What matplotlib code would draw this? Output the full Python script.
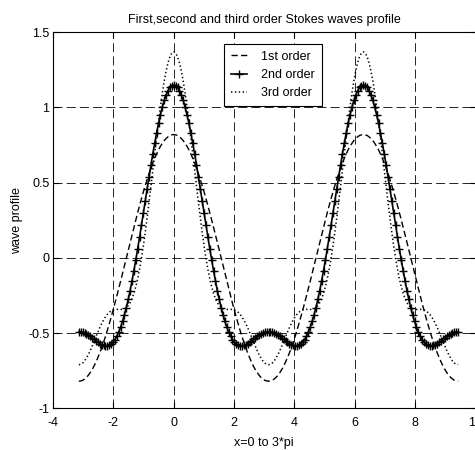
import numpy as np
import matplotlib
matplotlib.use("Agg")
import matplotlib.pyplot as plt

plt.rcParams['font.family'] = ['Liberation Sans', 'DejaVu Sans']
plt.rcParams['axes.unicode_minus'] = False
plt.rcParams['lines.scale_dashes'] = False

title = "First,second and third order Stokes waves profile"
xlabel = "x=0 to 3*pi"
ylabel = "wave profile"
series_names = ["1st order", "2nd order", "3rd order"]
x_start, x_end = -np.pi, 3 * np.pi
xticks = [-4, -2, 0, 2, 4, 6, 8, 10]
xtick_labels = ["-4", "-2", "0", "2", "4", "6", "8", "10"]
yticks = [-1, -0.5, 0, 0.5, 1, 1.5]
ytick_labels = ["-1", "-0.5", "0", "0.5", "1", "1.5"]

# values, x running evenly from -pi to 3*pi
wave1 = [
    -0.820, -0.818, -0.814, -0.805, -0.794, -0.780, -0.762, -0.742, -0.719, -0.692,
    -0.663, -0.632, -0.598, -0.561, -0.523, -0.482, -0.439, -0.395, -0.349, -0.302,
    -0.253, -0.204, -0.154, -0.103, -0.051, 0.000, 0.051, 0.103, 0.154, 0.204,
    0.253, 0.302, 0.349, 0.395, 0.439, 0.482, 0.523, 0.561, 0.598, 0.632,
    0.663, 0.692, 0.719, 0.742, 0.762, 0.780, 0.794, 0.805, 0.814, 0.818, 0.820,
    0.818, 0.814, 0.805, 0.794, 0.780, 0.762, 0.742, 0.719, 0.692, 0.663,
    0.632, 0.598, 0.561, 0.523, 0.482, 0.439, 0.395, 0.349, 0.302, 0.253,
    0.204, 0.154, 0.103, 0.051, 0.000, -0.051, -0.103, -0.154, -0.204, -0.253,
    -0.302, -0.349, -0.395, -0.439, -0.482, -0.523, -0.561, -0.598, -0.632, -0.663,
    -0.692, -0.719, -0.742, -0.762, -0.780, -0.794, -0.805, -0.814, -0.818, -0.820,
    -0.818, -0.814, -0.805, -0.794, -0.780, -0.762, -0.742, -0.719, -0.692, -0.663,
    -0.632, -0.598, -0.561, -0.523, -0.482, -0.439, -0.395, -0.349, -0.302, -0.253,
    -0.204, -0.154, -0.103, -0.051, 0.000, 0.051, 0.103, 0.154, 0.204, 0.253,
    0.302, 0.349, 0.395, 0.439, 0.482, 0.523, 0.561, 0.598, 0.632, 0.663,
    0.692, 0.719, 0.742, 0.762, 0.780, 0.794, 0.805, 0.814, 0.818, 0.820,
    0.818, 0.814, 0.805, 0.794, 0.780, 0.762, 0.742, 0.719, 0.692, 0.663,
    0.632, 0.598, 0.561, 0.523, 0.482, 0.439, 0.395, 0.349, 0.302, 0.253,
    0.204, 0.154, 0.103, 0.051, 0.000, -0.051, -0.103, -0.154, -0.204, -0.253,
    -0.302, -0.349, -0.395, -0.439, -0.482, -0.523, -0.561, -0.598, -0.632, -0.663,
    -0.692, -0.719, -0.742, -0.762, -0.780, -0.794, -0.805, -0.814, -0.818, -0.820,
]

wave2 = [
    -0.490, -0.491, -0.494, -0.499, -0.505, -0.513, -0.522, -0.532, -0.542, -0.552,
    -0.561, -0.570, -0.577, -0.582, -0.585, -0.584, -0.580, -0.572, -0.559, -0.543,
    -0.520, -0.493, -0.461, -0.422, -0.379, -0.330, -0.276, -0.217, -0.153, -0.085,
    -0.014, 0.061, 0.139, 0.218, 0.299, 0.380, 0.461, 0.541, 0.618, 0.694,
    0.765, 0.833, 0.895, 0.952, 1.003, 1.047, 1.083, 1.112, 1.133, 1.146, 1.150,
    1.146, 1.133, 1.112, 1.083, 1.047, 1.003, 0.952, 0.895, 0.833, 0.765,
    0.694, 0.618, 0.541, 0.461, 0.380, 0.299, 0.218, 0.139, 0.061, -0.014,
    -0.085, -0.153, -0.217, -0.276, -0.330, -0.379, -0.422, -0.461, -0.493, -0.520,
    -0.543, -0.559, -0.572, -0.580, -0.584, -0.585, -0.582, -0.577, -0.570, -0.561,
    -0.552, -0.542, -0.532, -0.522, -0.513, -0.505, -0.499, -0.494, -0.491, -0.490,
    -0.491, -0.494, -0.499, -0.505, -0.513, -0.522, -0.532, -0.542, -0.552, -0.561,
    -0.570, -0.577, -0.582, -0.585, -0.584, -0.580, -0.572, -0.559, -0.543, -0.520,
    -0.493, -0.461, -0.422, -0.379, -0.330, -0.276, -0.217, -0.153, -0.085, -0.014,
    0.061, 0.139, 0.218, 0.299, 0.380, 0.461, 0.541, 0.618, 0.694, 0.765,
    0.833, 0.895, 0.952, 1.003, 1.047, 1.083, 1.112, 1.133, 1.146, 1.150,
    1.146, 1.133, 1.112, 1.083, 1.047, 1.003, 0.952, 0.895, 0.833, 0.765,
    0.694, 0.618, 0.541, 0.461, 0.380, 0.299, 0.218, 0.139, 0.061, -0.014,
    -0.085, -0.153, -0.217, -0.276, -0.330, -0.379, -0.422, -0.461, -0.493, -0.520,
    -0.543, -0.559, -0.572, -0.580, -0.584, -0.585, -0.582, -0.577, -0.570, -0.561,
    -0.552, -0.542, -0.532, -0.522, -0.513, -0.505, -0.499, -0.494, -0.491, -0.490,
]

wave3 = [
    -0.710, -0.707, -0.699, -0.685, -0.665, -0.642, -0.616, -0.586, -0.556, -0.524,
    -0.493, -0.464, -0.437, -0.413, -0.392, -0.375, -0.362, -0.352, -0.346, -0.343,
    -0.342, -0.343, -0.343, -0.341, -0.338, -0.330, -0.317, -0.298, -0.271, -0.236,
    -0.192, -0.138, -0.074, -0.001, 0.081, 0.171, 0.268, 0.371, 0.478, 0.588,
    0.697, 0.805, 0.909, 1.007, 1.097, 1.176, 1.244, 1.298, 1.338, 1.362, 1.370,
    1.362, 1.338, 1.298, 1.244, 1.176, 1.097, 1.007, 0.909, 0.805, 0.697,
    0.588, 0.478, 0.371, 0.268, 0.171, 0.081, -0.001, -0.074, -0.138, -0.192,
    -0.236, -0.271, -0.298, -0.317, -0.330, -0.338, -0.341, -0.343, -0.343, -0.342,
    -0.343, -0.346, -0.352, -0.362, -0.375, -0.392, -0.413, -0.437, -0.464, -0.493,
    -0.524, -0.556, -0.586, -0.616, -0.642, -0.665, -0.685, -0.699, -0.707, -0.710,
    -0.707, -0.699, -0.685, -0.665, -0.642, -0.616, -0.586, -0.556, -0.524, -0.493,
    -0.464, -0.437, -0.413, -0.392, -0.375, -0.362, -0.352, -0.346, -0.343, -0.342,
    -0.343, -0.343, -0.341, -0.338, -0.330, -0.317, -0.298, -0.271, -0.236, -0.192,
    -0.138, -0.074, -0.001, 0.081, 0.171, 0.268, 0.371, 0.478, 0.588, 0.697,
    0.805, 0.909, 1.007, 1.097, 1.176, 1.244, 1.298, 1.338, 1.362, 1.370,
    1.362, 1.338, 1.298, 1.244, 1.176, 1.097, 1.007, 0.909, 0.805, 0.697,
    0.588, 0.478, 0.371, 0.268, 0.171, 0.081, -0.001, -0.074, -0.138, -0.192,
    -0.236, -0.271, -0.298, -0.317, -0.330, -0.338, -0.341, -0.343, -0.343, -0.342,
    -0.343, -0.346, -0.352, -0.362, -0.375, -0.392, -0.413, -0.437, -0.464, -0.493,
    -0.524, -0.556, -0.586, -0.616, -0.642, -0.665, -0.685, -0.699, -0.707, -0.710,
]

x1 = np.linspace(x_start, x_end, len(wave1))
x2 = np.linspace(x_start, x_end, len(wave2))
x3 = np.linspace(x_start, x_end, len(wave3))

W, H = 475, 450
fig = plt.figure(figsize=(W / 100, H / 100), dpi=100)
ax_l, ax_r, ax_t, ax_b = 53, 475.5, 32.3, 408.3
ax = fig.add_axes([ax_l / W, 1 - ax_b / H, (ax_r - ax_l) / W, (ax_b - ax_t) / H])

ax.plot(x1, wave1, color='black', lw=1.0, linestyle=(0, (4.5, 2.4)), label=series_names[0])
ax.plot(x2, wave2, color='black', lw=1.2, marker='+', ms=6, mew=1.0, label=series_names[1])
ax.plot(x3, wave3, color='black', lw=1.1, linestyle=(0, (1.0, 1.8)), label=series_names[2])

ax.set_xlim(-4, 10)
ax.set_ylim(-1, 1.5)
ax.set_xticks(xticks)
ax.set_xticklabels(xtick_labels)
ax.set_yticks(yticks)
ax.set_yticklabels(ytick_labels)
ax.tick_params(direction='in', length=4, width=0.8, top=True, right=True,
               labelsize=9, colors='black')
ax.tick_params(axis='x', pad=6.5)
ax.tick_params(axis='y', pad=2.5)
for s in ax.spines.values():
    s.set_linewidth(0.8)
    s.set_color('black')
ax.grid(True, color='black', lw=0.6, linestyle=(0, (6.5, 3.0)))
ax.set_axisbelow(True)

ax.set_title(title, fontsize=9, pad=7)
ax.set_xlabel(xlabel, fontsize=9, labelpad=5.5)
ax.set_ylabel(ylabel, fontsize=9, labelpad=3.5)

leg = ax.legend(loc='upper left',
                bbox_to_anchor=((224 - ax_l) / (ax_r - ax_l), (ax_b - 44) / (ax_b - ax_t)),
                borderaxespad=0, fontsize=9, fancybox=False, framealpha=1,
                edgecolor='black', handlelength=1.3, handletextpad=1.1,
                labelspacing=0.5, borderpad=0.55)
leg.get_frame().set_linewidth(0.8)

fig.savefig("out.png", dpi=100)
